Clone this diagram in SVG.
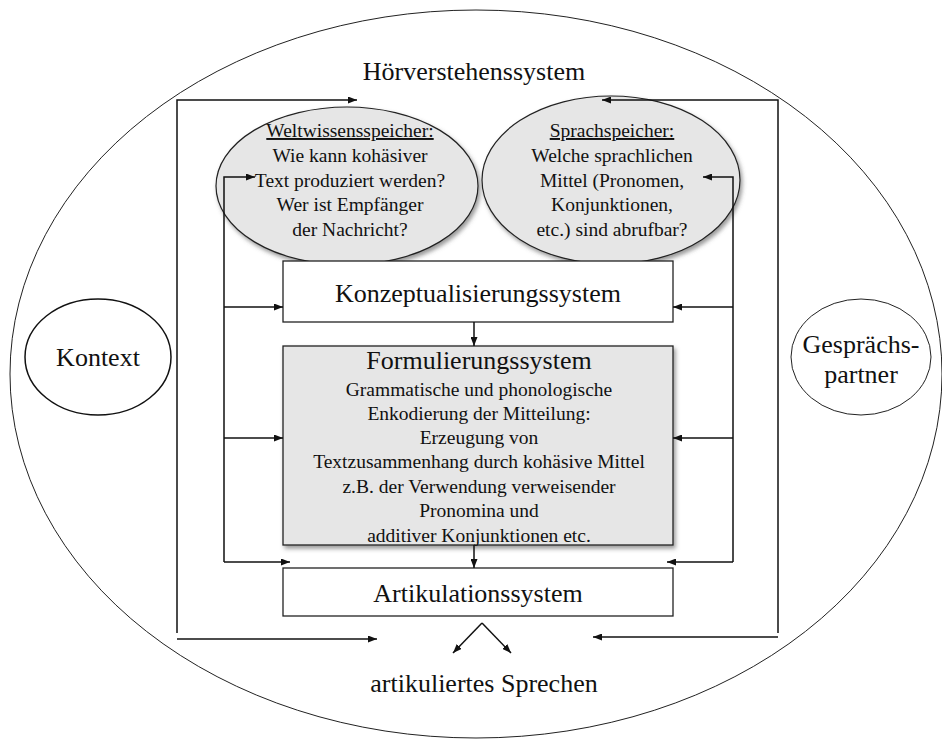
<svg xmlns="http://www.w3.org/2000/svg" width="942" height="740" viewBox="0 0 942 740">
<style>
text{font-family:"Liberation Serif","Times New Roman",serif;fill:#111;text-anchor:middle}
.big{font-size:26px}
.sm{font-size:19.5px}
.ln{fill:none;stroke:#111;stroke-width:1.5}
.arr{marker-end:url(#ah)}
.box{fill:#fff;stroke:#222;stroke-width:1.3}
.gbox{fill:#e6e6e6;stroke:#222;stroke-width:1.3}
.gell{fill:#e6e6e6;stroke:#222;stroke-width:1.2}
</style>
<defs>
<marker id="ah" markerUnits="userSpaceOnUse" markerWidth="9" markerHeight="7" refX="9" refY="3.5" orient="auto">
<path d="M0,0 L9,3.5 L0,7 z" fill="#111"/>
</marker>
<filter id="sh" x="-10%" y="-10%" width="125%" height="130%">
<feDropShadow dx="2" dy="3" stdDeviation="2" flood-color="#555" flood-opacity="0.6"/>
</filter>
</defs>

<g id="outer">
<ellipse cx="476" cy="374" rx="466" ry="364" fill="none" stroke="#222" stroke-width="1"/>
<text class="big" x="474" y="80">Hörverstehenssystem</text>
</g>

<g id="kontext">
<ellipse cx="98" cy="357" rx="73" ry="58" fill="#fff" stroke="#111" stroke-width="1.5"/>
<text class="big" x="98" y="366">Kontext</text>
</g>

<g id="gespraechspartner">
<ellipse cx="861" cy="357" rx="70" ry="58" fill="#fff" stroke="#222" stroke-width="1"/>
<text class="big" x="861" y="353">Gesprächs-</text>
<text class="big" x="861" y="383">partner</text>
</g>

<g id="weltwissen">
<ellipse class="gell" cx="347" cy="186" rx="131" ry="79" filter="url(#sh)"/>
<text class="sm" x="350" y="137" text-decoration="underline">Weltwissensspeicher:</text>
<text class="sm" x="350" y="162">Wie kann kohäsiver</text>
<text class="sm" x="350" y="187">Text produziert werden?</text>
<text class="sm" x="350" y="211">Wer ist Empfänger</text>
<text class="sm" x="350" y="236">der Nachricht?</text>
</g>

<g id="sprachspeicher">
<ellipse class="gell" cx="611" cy="180" rx="129" ry="84" filter="url(#sh)"/>
<text class="sm" x="612" y="137" text-decoration="underline">Sprachspeicher:</text>
<text class="sm" x="612" y="162">Welche sprachlichen</text>
<text class="sm" x="612" y="187">Mittel (Pronomen,</text>
<text class="sm" x="612" y="211">Konjunktionen,</text>
<text class="sm" x="612" y="236">etc.) sind abrufbar?</text>
</g>

<g id="konzept">
<rect class="box" x="283" y="261" width="390" height="61"/>
<text class="big" x="478" y="302">Konzeptualisierungssystem</text>
</g>

<g id="formulierung">
<rect class="gbox" x="283" y="346" width="390" height="199" filter="url(#sh)"/>
<text class="big" x="479" y="369">Formulierungssystem</text>
<text class="sm" x="479" y="396">Grammatische und phonologische</text>
<text class="sm" x="479" y="420">Enkodierung der Mitteilung:</text>
<text class="sm" x="479" y="444">Erzeugung von</text>
<text class="sm" x="479" y="468">Textzusammenhang durch kohäsive Mittel</text>
<text class="sm" x="479" y="493">z.B. der Verwendung verweisender</text>
<text class="sm" x="479" y="517">Pronomina und</text>
<text class="sm" x="479" y="542">additiver Konjunktionen etc.</text>
</g>

<g id="artikulation">
<rect class="box" x="283" y="568" width="390" height="48"/>
<text class="big" x="478" y="602">Artikulationssystem</text>
</g>

<g id="sprechen">
<text class="big" x="484" y="692">artikuliertes Sprechen</text>
</g>

<g id="connectors">
<path class="ln arr" d="M177,633 V100 H357"/>
<path class="ln arr" d="M778,633 V100 H602"/>
<path class="ln arr" d="M177,639 H377"/>
<path class="ln arr" d="M778,637 H593"/>
<path class="ln arr" d="M224,562 V177 H255"/>
<path class="ln arr" d="M224,307 H283"/>
<path class="ln arr" d="M224,438 H283"/>
<path class="ln arr" d="M224,562 H290"/>
<path class="ln arr" d="M733,562 V177 H703"/>
<path class="ln arr" d="M733,307 H673"/>
<path class="ln arr" d="M733,438 H673"/>
<path class="ln arr" d="M733,562 H667"/>
<path class="ln arr" d="M474,322 V346"/>
<path class="ln arr" d="M474,545 V568"/>
<path class="ln arr" d="M482,623 L453,653"/>
<path class="ln arr" d="M482,623 L511,653"/>
</g>
</svg>
